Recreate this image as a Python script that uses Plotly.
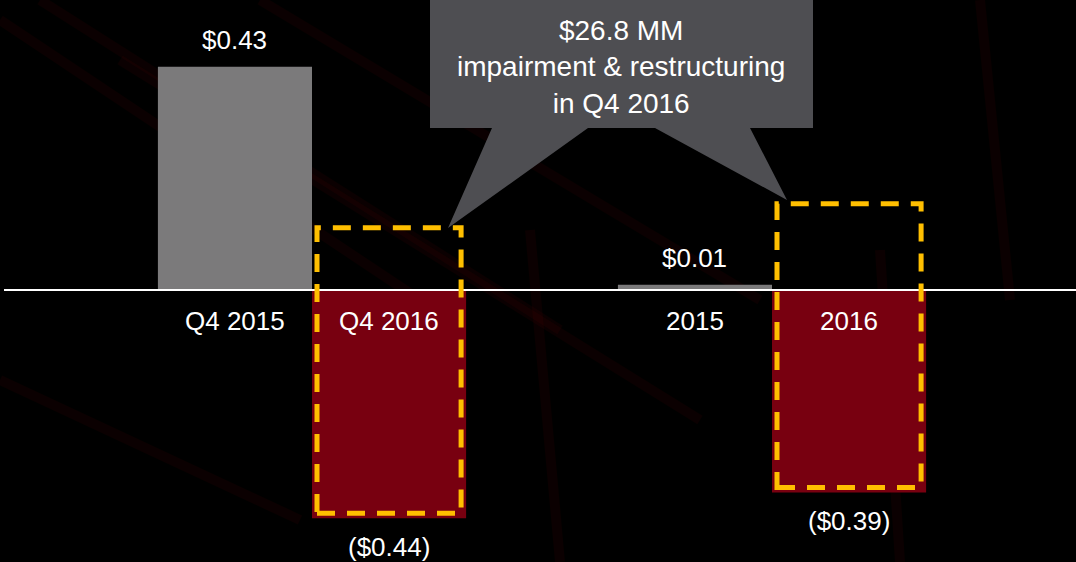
import plotly.graph_objects as go

# ---- data ----
groups = ["Q4", "Full Year"]
prior_values = [0.43, 0.01]
current_values = [-0.44, -0.39]
prior_periods = ["Q4 2015", "2015"]
current_periods = ["Q4 2016", "2016"]
prior_labels = ["$0.43", "$0.01"]
current_labels = ["($0.44)", "($0.39)"]
callout_text = "$26.8 MM<br>impairment & restructuring<br>in Q4 2016"

W, H = 1076, 562
FONT = "Liberation Sans, Arial, sans-serif"
GRAY = "#7b7a7b"
RED = "#780010"
YELLOW = "#ffbf00"

BARGAP = 0.33
half_bar = (1 - BARGAP) / 2  # width of one bar in category units
px_per_unit_x = 460
bar_px = half_bar * px_per_unit_x

fig = go.Figure()
fig.add_trace(go.Bar(x=groups, y=prior_values, name="Prior", marker=dict(color=GRAY, line=dict(width=0)),
                     hoverinfo="skip"))
fig.add_trace(go.Bar(x=groups, y=current_values, name="Current", marker=dict(color=RED, line=dict(width=0)),
                     hoverinfo="skip"))

def px2paper(x, y):
    return x / W, 1 - y / H

shapes = []
# faint background streaks
streaks = [((0, 20), (420, 300)), ((40, 0), (560, 330)), ((120, 60), (700, 420)),
           ((260, 0), (760, 300)), ((530, 230), (560, 562)), ((880, 250), (900, 562)),
           ((980, 0), (1010, 300)), ((0, 380), (300, 520))]
for (a, b) in streaks:
    x0, y0 = px2paper(*a)
    x1, y1 = px2paper(*b)
    shapes.append(dict(type="line", xref="paper", yref="paper", x0=x0, y0=y0, x1=x1, y1=y1,
                       line=dict(color="rgba(110,0,10,0.10)", width=10), layer="below"))

# zero line
shapes.append(dict(type="line", xref="paper", yref="y", x0=4 / W, x1=1, y0=0, y1=0,
                   line=dict(color="white", width=2), layer="above"))

# dashed highlight boxes around current bars
box_tops = [0.12, 0.166]
inset_x = 5 / px_per_unit_x
inset_y = 5 / 519
for i, (v, top) in enumerate(zip(current_values, box_tops)):
    shapes.append(dict(type="rect", xref="x", yref="y",
                       x0=i + inset_x, x1=i + half_bar - inset_x,
                       y0=v + inset_y, y1=top,
                       line=dict(color=YELLOW, width=5, dash="18px,12px"),
                       fillcolor="rgba(0,0,0,0)", layer="above"))

# callout shape
pts = [(430, 0), (813, 0), (813, 128), (750, 128), (787, 200), (655, 128), (588, 128),
       (448, 228), (492, 128), (430, 128)]
path = "M " + " L ".join(f"{px2paper(x, y)[0]:.5f},{px2paper(x, y)[1]:.5f}" for x, y in pts) + " Z"
shapes.append(dict(type="path", xref="paper", yref="paper", path=path,
                   fillcolor="#4e4e52", line=dict(width=0), layer="above"))

LBL = dict(family=FONT, size=26, color="white")
annotations = []
for i, g in enumerate(groups):
    # period labels just below the zero line
    annotations.append(dict(x=g, y=0, xref="x", yref="y", text=prior_periods[i], showarrow=False,
                            xshift=-bar_px / 2, yshift=-31, font=LBL))
    annotations.append(dict(x=g, y=0, xref="x", yref="y", text=current_periods[i], showarrow=False,
                            xshift=bar_px / 2, yshift=-31, font=LBL))
    # value labels
    annotations.append(dict(x=g, y=prior_values[i], xref="x", yref="y", text=prior_labels[i], showarrow=False,
                            xshift=-bar_px / 2, yshift=27, font=LBL))
    annotations.append(dict(x=g, y=current_values[i], xref="x", yref="y", text=current_labels[i], showarrow=False,
                            xshift=bar_px / 2, yshift=-29, font=LBL))

cx, cy = px2paper(621, 67)
annotations.append(dict(x=cx, y=cy, xref="paper", yref="paper", text=callout_text, showarrow=False,
                        xanchor="center", yanchor="middle", align="center",
                        font=dict(family=FONT, size=28, color="white")))

fig.update_layout(
    width=W, height=H,
    margin=dict(l=0, r=0, t=0, b=0),
    paper_bgcolor="black", plot_bgcolor="black",
    barmode="group", bargap=BARGAP, bargroupgap=0,
    showlegend=False,
    xaxis=dict(type="category", range=[-312 / 460, (W - 312) / 460], showticklabels=False,
               showgrid=False, zeroline=False, showline=False, fixedrange=True),
    yaxis=dict(range=[-(H - 290) / 519, 290 / 519], showticklabels=False, showgrid=False,
               zeroline=False, showline=False, fixedrange=True),
    shapes=shapes,
    annotations=annotations,
    font=dict(family=FONT, color="white"),
)

fig.write_html("out.html", config={"displayModeBar": False},
               post_script="document.body.style.margin='0';document.body.style.background='black';"
                           "document.body.style.overflow='hidden';")
